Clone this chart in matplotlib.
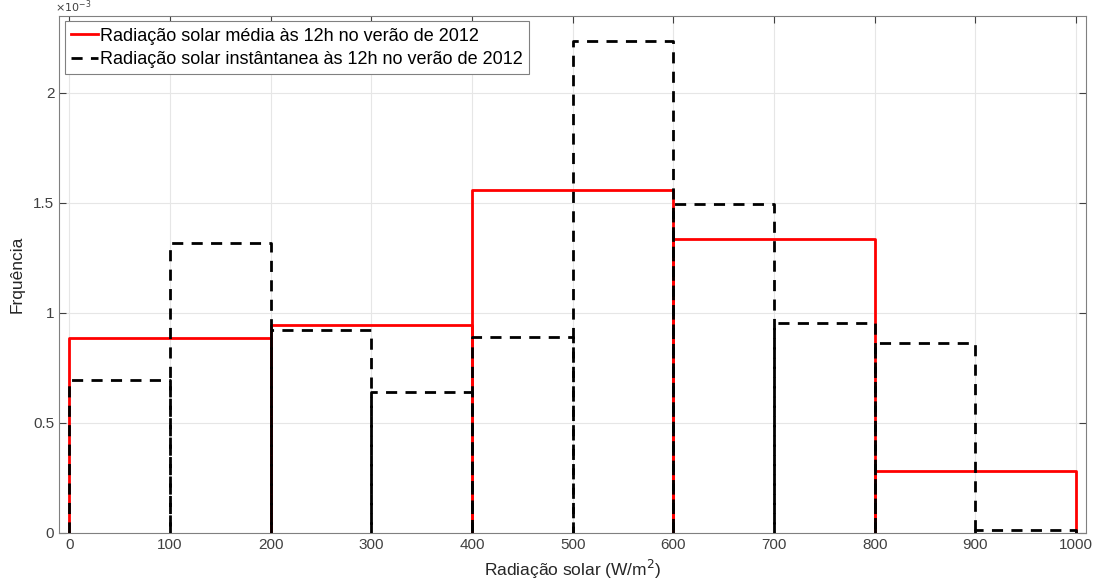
import numpy as np
import matplotlib
matplotlib.use('Agg')
import matplotlib.pyplot as plt
from matplotlib.lines import Line2D

plt.rcParams['font.family'] = ['Liberation Sans', 'DejaVu Sans']

# histograma (pdf) da radiação média: bins de 200 W/m2
edges_media = [0, 200, 400, 600, 800, 1000]
freq_media = [0.886e-3, 0.945e-3, 1.559e-3, 1.336e-3, 0.282e-3]

# histograma (pdf) da radiação instantânea: bins de 100 W/m2
edges_inst = [0, 100, 200, 300, 400, 500, 600, 700, 800, 900, 1000]
freq_inst = [0.695e-3, 1.318e-3, 0.923e-3, 0.641e-3, 0.891e-3,
             2.236e-3, 1.495e-3, 0.955e-3, 0.864e-3, 0.014e-3]

labels = ['Radiação solar média às 12h no verão de 2012',
          'Radiação solar instântanea às 12h no verão de 2012']

xticks = np.arange(0, 1001, 100)
yticks = [0, 0.5e-3, 1e-3, 1.5e-3, 2e-3]

fig = plt.figure(figsize=(10.96, 5.87), dpi=100)
ax = fig.add_axes([0.054, 0.092, 0.937, 0.881])

# contorno de cada barra (sem a base), como o histogram 'stairs' do MATLAB
def draw_bars(edges, freq, **kw):
    for x0, x1, h in zip(edges[:-1], edges[1:], freq):
        ax.plot([x0, x0, x1, x1], [0, h, h, 0], **kw)

draw_bars(edges_media, freq_media, color='#ff0000', lw=2, zorder=3)
draw_bars(edges_inst, freq_inst, color='black', lw=2, ls=(0, (4, 3)), zorder=4)

ax.set_xlim(-10, 1010)
ax.set_ylim(0, 2.35e-3)
ax.set_xticks(xticks)
ax.set_yticks(yticks)
ax.set_yticklabels(['0', '0.5', '1', '1.5', '2'])
ax.grid(True, color='#e6e6e6', linewidth=0.8)
ax.set_axisbelow(True)
ax.tick_params(direction='in', colors='#404040', labelsize=11, length=5, top=True, right=True,
               labeltop=False, labelright=False)
for s in ax.spines.values():
    s.set_color('#808080')

ax.text(-0.004, 1.002, r'$\times10^{-3}$', transform=ax.transAxes, fontsize=8,
        color='#404040', ha='left', va='bottom')

ax.set_xlabel('Radiação solar (W/m$^2$)', fontsize=12.5, color='#262626', labelpad=4)
ax.set_ylabel('Frquência', fontsize=12.5, color='#262626', labelpad=6)

handles = [Line2D([], [], color='#ff0000', lw=2),
           Line2D([], [], color='black', lw=2, ls=(0, (4, 3)))]
leg = ax.legend(handles, labels, loc='upper left', fontsize=13, frameon=True, fancybox=False,
                edgecolor='#808080', borderaxespad=0.3, handlelength=1.5,
                handletextpad=0.1, borderpad=0.35, labelspacing=0.35, framealpha=1)
leg.get_frame().set_linewidth(0.8)

fig.savefig('out.png', dpi=100)
